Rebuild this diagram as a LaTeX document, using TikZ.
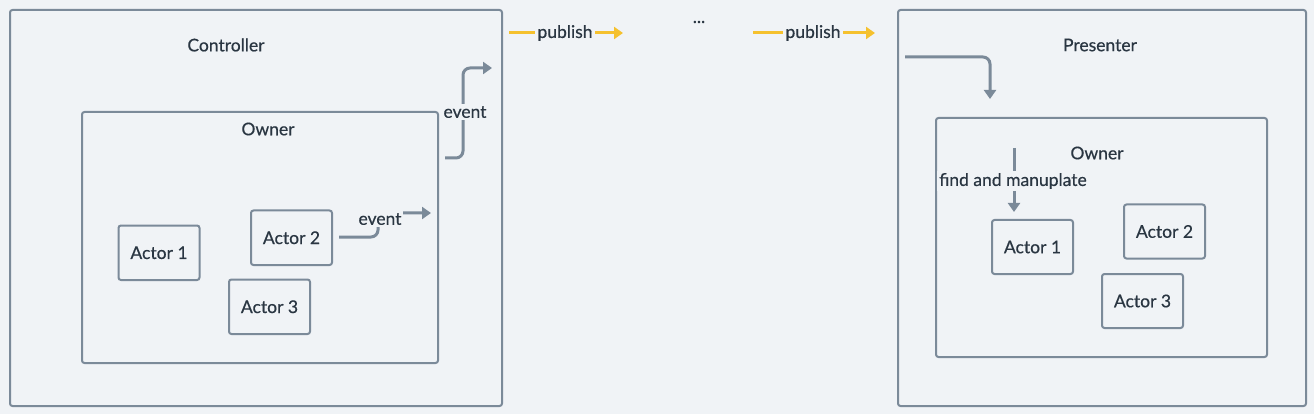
\documentclass[tikz,border=0pt]{standalone}
\usepackage{fontspec}
\setmainfont{Lato}[FakeBold=0.5]
\usetikzlibrary{arrows.meta}
\definecolor{bg}{HTML}{F0F3F6}
\definecolor{bd}{HTML}{7B8A99}
\definecolor{tx}{HTML}{2A3642}
\definecolor{yl}{HTML}{F5C12E}
\tikzset{
  box/.style={draw=bd, line width=2pt, rounded corners=2.5pt, anchor=north west, inner sep=0pt},
  lbl/.style={text=tx, font=\fontsize{17.5}{20}\selectfont, inner sep=1pt},
  bglbl/.style={lbl, fill=bg, inner sep=2pt},
  conn/.style={draw=bd, line width=3pt, rounded corners=7pt, -{Triangle[length=9pt,width=12pt]}},
  pub/.style={draw=yl, line width=3pt, -{Triangle[length=9pt,width=12pt]}},
}
\begin{document}
\begin{tikzpicture}[x=1pt,y=-1pt]
\useasboundingbox (0,0) rectangle (1314,414);
\fill[bg] (0,0) rectangle (1314,414);
% left side
\node[box, minimum width=492pt, minimum height=396pt] (ctrl) at (9,9) {};
\node[lbl] (ctrlT) at (226,45) {Controller};
\node[box, minimum width=356pt, minimum height=251pt] (ownL) at (81,111) {};
\node[lbl] (ownLT) at (268,129) {Owner};
\node[box, minimum width=81pt, minimum height=54.5pt] (a1) at (117.5,224.5) {};
\node[lbl] at (a1.center) {Actor 1};
\node[box, minimum width=81pt, minimum height=54.5pt] (a2) at (250,209.5) {};
\node[lbl] at (a2.center) {Actor 2};
\node[box, minimum width=81pt, minimum height=54.5pt] (a3) at (228,278.5) {};
\node[lbl] at (a3.center) {Actor 3};
\coordinate (e1s) at (339,237);
\coordinate (e1e) at (431,213);
\draw[conn] (e1s) -- (378,237) -- (378,213) -- (e1e);
\node[bglbl] (e1l) at (380,219) {event};
\coordinate (e2s) at (445,158);
\coordinate (e2e) at (492,68);
\draw[conn] (e2s) -- (463,158) -- (463,68) -- (e2e);
\node[bglbl] (e2l) at (465,112) {event};
% publish
\coordinate (p1s) at (509,33);
\coordinate (p1e) at (623,33);
\draw[pub] (p1s) -- (p1e);
\node[bglbl] (p1l) at (565,33) {publish};
\node[lbl] (dots) at (699,22) {...};
\coordinate (p2s) at (753,33);
\coordinate (p2e) at (875,33);
\draw[pub] (p2s) -- (p2e);
\node[bglbl] (p2l) at (813,33) {publish};
% right side
\node[box, minimum width=408pt, minimum height=396pt] (pres) at (897,9) {};
\node[lbl] (presT) at (1100,45) {Presenter};
\coordinate (ps) at (905,57);
\coordinate (pe) at (990,99);
\draw[conn] (ps) -- (990,57) -- (pe);
\node[box, minimum width=331pt, minimum height=239pt] (ownR) at (935,117) {};
\node[lbl] (ownRT) at (1097,153) {Owner};
\node[box, minimum width=81pt, minimum height=54pt] (b1) at (991,219) {};
\node[lbl] at (b1.center) {Actor 1};
\node[box, minimum width=81pt, minimum height=54pt] (b2) at (1123,203.5) {};
\node[lbl] at (b2.center) {Actor 2};
\node[box, minimum width=81pt, minimum height=54pt] (b3) at (1101,273) {};
\node[lbl] at (b3.center) {Actor 3};
\coordinate (fs) at (1014,148);
\coordinate (fe) at (1014,212);
\draw[conn] (fs) -- (fe);
\node[bglbl] (fl) at (1013,181) {find and manuplate};
\end{tikzpicture}
\end{document}
